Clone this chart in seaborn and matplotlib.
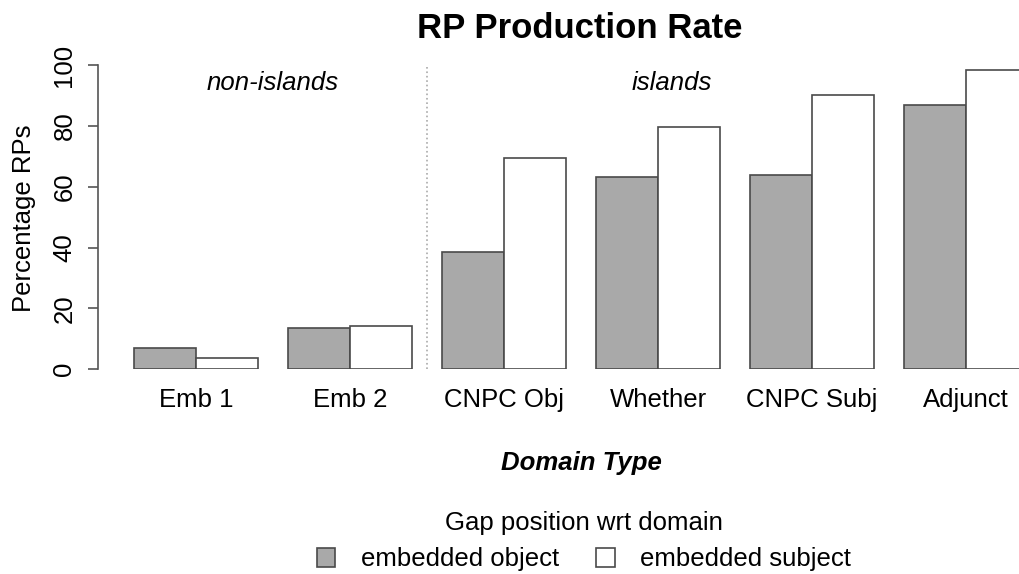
import pandas as pd
import matplotlib.pyplot as plt
import seaborn as sns

# dados
domains = ["Emb 1", "Emb 2", "CNPC Obj", "Whether", "CNPC Subj", "Adjunct"]
emb_object = [6.9, 13.5, 38.4, 63.2, 64.0, 86.7]
emb_subject = [3.6, 14.2, 69.4, 79.6, 90.2, 98.3]
gap_labels = ["embedded object", "embedded subject"]
yticks = [0, 20, 40, 60, 80, 100]

df = pd.DataFrame({
    "domain": domains * 2,
    "pct": emb_object + emb_subject,
    "gap": [gap_labels[0]] * len(domains) + [gap_labels[1]] * len(domains),
})

sns.set_style("white")
plt.rcParams["font.family"] = ["Liberation Sans", "DejaVu Sans"]
plt.rcParams["text.color"] = "black"
plt.rcParams["xtick.labelcolor"] = "black"
plt.rcParams["ytick.labelcolor"] = "black"

FS = 18.5
W, H = 1019, 574
fig = plt.figure(figsize=(W / 100, H / 100), dpi=100)
# eixo posicionado em pixels
ax = fig.add_axes([98 / W, (H - 369.3) / H, 960.4 / W, 316.5 / H])

sns.barplot(data=df, x="domain", y="pct", hue="gap", order=domains,
            hue_order=gap_labels, palette=["#a9a9a9", "#ffffff"],
            saturation=1, edgecolor="#4a4a4a", linewidth=1.2, ax=ax)

handles, labels = ax.get_legend_handles_labels()
ax.get_legend().remove()

ax.set_xlim(-0.636, 5.6)
ax.set_ylim(0, 104)
ax.set_xlabel("")
ax.set_ylabel("")

for s in ["top", "right", "bottom"]:
    ax.spines[s].set_visible(False)
ax.spines["left"].set_bounds(0, 100)
ax.spines["left"].set_color("#555555")
ax.spines["left"].set_linewidth(1.2)

ax.set_yticks(yticks)
ax.tick_params(axis="y", left=True, length=7.5, width=1.2, color="#555555",
               labelsize=FS, pad=8, labelrotation=90)
for t in ax.get_yticklabels():
    t.set_va("center")
ax.tick_params(axis="x", bottom=False, length=0, labelsize=FS, pad=13.5)

# separador entre non-islands e islands
ax.axvline(1.5, ymin=0, ymax=100 / 104, color="#aaaaaa", linestyle=":", linewidth=1.2)
ax.text(0.5, 94, "non-islands", style="italic", fontsize=FS, ha="center", va="center")
ax.text(3.09, 94, "islands", style="italic", fontsize=FS, ha="center", va="center")

fig.text(580 / W, 1 - 28 / H, "RP Production Rate", fontsize=25, fontweight="bold",
         ha="center", va="center")
fig.text(24 / W, 1 - 218 / H, "Percentage RPs", fontsize=FS, rotation=90,
         ha="center", va="center")
fig.text(581 / W, 1 - 463 / H, "Domain Type", fontsize=FS, fontweight="bold",
         style="italic", ha="center", va="center")

leg = fig.legend(handles, labels, title="Gap position wrt domain", ncol=2,
                 loc="upper center", bbox_to_anchor=(584 / W, 1 - 490 / H),
                 frameon=False, fontsize=FS, title_fontsize=FS,
                 handlelength=0.72, handleheight=0.72, handletextpad=1.0,
                 columnspacing=1.45, borderpad=0.3)
for h in leg.legend_handles:
    h.set_edgecolor("#4a4a4a")

fig.savefig("out.png", dpi=100)
